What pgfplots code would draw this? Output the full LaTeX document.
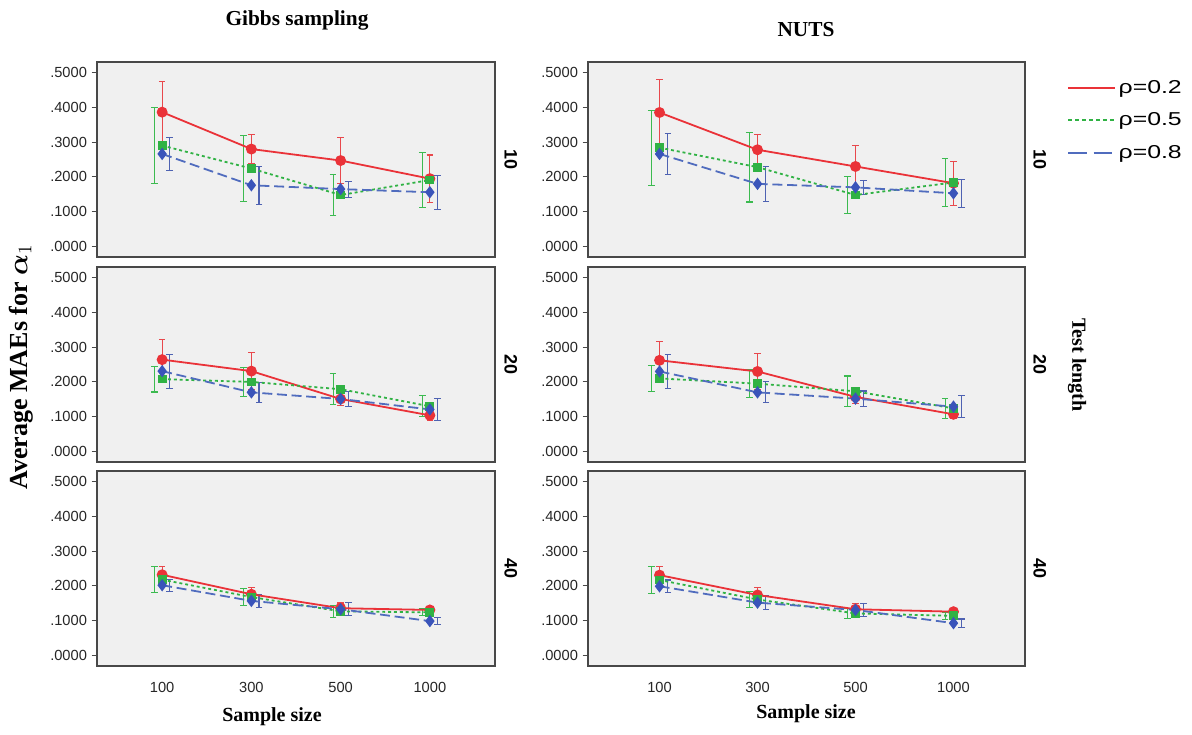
\documentclass[border=0pt]{standalone}
\usepackage{fontspec}
\setmainfont{Liberation Serif}
\setsansfont{Liberation Sans}
\newfontfamily\legfont[FakeStretch=1.33]{Liberation Sans}
\usepackage{bm}
\usepackage{pgfplots}
\pgfplotsset{compat=1.18}
\usepackage{pgfplotstable}

\definecolor{cR}{RGB}{234,50,56}
\definecolor{cG}{RGB}{48,178,68}
\definecolor{cB}{RGB}{58,84,186}
\definecolor{cBl}{RGB}{80,108,190}
\definecolor{cRe}{RGB}{232,72,76}
\definecolor{cGe}{RGB}{60,186,80}
\definecolor{cBe}{RGB}{78,98,178}
\definecolor{panelbg}{RGB}{240,240,240}
\definecolor{framec}{RGB}{72,72,72}

% columns: x, rho=0.2 (r, er), rho=0.5 (g, eg), rho=0.8 (b, eb)
\pgfplotstableread{
x r er g eg b eb
0 0.386 0.089 0.290 0.110 0.266 0.047
1 0.280 0.042 0.224 0.094 0.176 0.054
2 0.247 0.065 0.148 0.060 0.165 0.023
3 0.195 0.068 0.191 0.078 0.156 0.049
}\GibbsTen
\pgfplotstableread{
x r er g eg b eb
0 0.385 0.096 0.284 0.108 0.266 0.060
1 0.278 0.043 0.228 0.100 0.180 0.050
2 0.230 0.060 0.148 0.053 0.170 0.021
3 0.182 0.063 0.184 0.070 0.153 0.040
}\NUTSTen
\pgfplotstableread{
x r er g eg b eb
0 0.264 0.057 0.208 0.037 0.231 0.049
1 0.231 0.054 0.200 0.042 0.170 0.028
2 0.151 0.020 0.179 0.044 0.151 0.022
3 0.104 0.015 0.130 0.030 0.121 0.031
}\GibbsTwenty
\pgfplotstableread{
x r er g eg b eb
0 0.262 0.055 0.210 0.038 0.230 0.049
1 0.230 0.051 0.195 0.040 0.170 0.030
2 0.157 0.020 0.173 0.044 0.152 0.022
3 0.107 0.012 0.124 0.029 0.129 0.032
}\NUTSTwenty
\pgfplotstableread{
x r er g eg b eb
0 0.232 0.025 0.218 0.038 0.202 0.017
1 0.176 0.020 0.168 0.024 0.157 0.019
2 0.136 0.015 0.127 0.017 0.133 0.019
3 0.131 0.010 0.124 0.010 0.099 0.011
}\GibbsForty
\pgfplotstableread{
x r er g eg b eb
0 0.231 0.024 0.217 0.038 0.199 0.018
1 0.174 0.022 0.161 0.022 0.152 0.019
2 0.133 0.016 0.121 0.014 0.131 0.019
3 0.126 0.010 0.114 0.010 0.093 0.012
}\NUTSForty

\pgfplotsset{
  panel/.style={
    scale only axis, height=195*0.75pt,
    xmin=-0.73, xmax=3.73, ymin=-0.03, ymax=0.53,
    axis background/.style={fill=panelbg},
    axis line style={framec, line width=0.9pt},
    ytick={0,0.1,0.2,0.3,0.4,0.5},
    yticklabels={.0000,.1000,.2000,.3000,.4000,.5000},
    xtick={0,1,2,3}, xticklabels={},
    tick align=outside, major tick length=4pt,
    ytick pos=left, xtick pos=bottom,
    y tick style={framec, line width=0.8pt},
    x tick style={draw=none},
    tick label style={font=\sffamily\fontsize{11}{12}\selectfont, text=black!85},
    clip=false,
  },
  ebar/.style={draw=none, mark=none, forget plot,
    error bars/.cd, y dir=both, y explicit, error mark=|,
    error bar style={line width=0.8pt, solid, draw=#1},
    error mark options={line width=0.8pt, mark size=2.5pt, solid, draw=#1, color=#1}},
}

\newcommand{\series}[1]{%
  \addplot[ebar=cGe] table[x expr=\thisrow{x}-0.085, y=g, y error=eg] {#1};
  \addplot[ebar=cRe] table[x=x, y=r, y error=er] {#1};
  \addplot[ebar=cBe] table[x expr=\thisrow{x}+0.085, y=b, y error=eb] {#1};
  \addplot[cR, line width=1.35pt, mark=*, mark size=3.4pt, mark options={solid, fill=cR}, forget plot] table[x=x, y=r] {#1};
  \addplot[cG, line width=1.35pt, dash pattern=on 2.2pt off 2.2pt, mark=square*, mark size=2.6pt, mark options={solid, fill=cG}, forget plot] table[x=x, y=g] {#1};
  \addplot[cBl, line width=1.35pt, dash pattern=on 7.5pt off 3.5pt, mark=diamond*, mark size=3.6pt, mark options={solid, draw=cB, fill=cB}, forget plot] table[x=x, y=b] {#1};
}

\begin{document}
\begin{tikzpicture}
\path[use as bounding box] (0,0) rectangle (1192*0.75pt,-735*0.75pt);

% ---- Left column (Gibbs sampling)
\begin{axis}[panel, width=398*0.75pt, anchor=south west, at={(97*0.75pt,-257*0.75pt)}]
\series{\GibbsTen}
\node[rotate=-90, font=\sffamily\bfseries\fontsize{13.5}{14}\selectfont] at (rel axis cs:1.04,0.5) {10};
\end{axis}
\begin{axis}[panel, width=398*0.75pt, anchor=south west, at={(97*0.75pt,-462*0.75pt)}]
\series{\GibbsTwenty}
\node[rotate=-90, font=\sffamily\bfseries\fontsize{13.5}{14}\selectfont] at (rel axis cs:1.04,0.5) {20};
\end{axis}
\begin{axis}[panel, width=398*0.75pt, anchor=south west, at={(97*0.75pt,-666*0.75pt)},
  xticklabels={100,300,500,1000}, xticklabel style={yshift=-5pt}]
\series{\GibbsForty}
\node[rotate=-90, font=\sffamily\bfseries\fontsize{13.5}{14}\selectfont] at (rel axis cs:1.04,0.5) {40};
\end{axis}

% ---- Right column (NUTS)
\begin{axis}[panel, width=437*0.75pt, anchor=south west, at={(588*0.75pt,-257*0.75pt)},
  legend style={at={(1.087,0.935)}, anchor=north west, draw=none, fill=none,
    font=\legfont\fontsize{14}{15}\selectfont, row sep=9pt},
  legend cell align=left,
  legend image code/.code={\draw[#1] (0pt,0pt) -- (35pt,0pt);}]
\series{\NUTSTen}
\addlegendimage{cR, line width=1.5pt}
\addlegendentry{ρ=0.2}
\addlegendimage{cG, line width=1.5pt, dash pattern=on 3pt off 2.2pt}
\addlegendentry{ρ=0.5}
\addlegendimage{cBl, line width=1.5pt, dash pattern=on 14pt off 5pt}
\addlegendentry{ρ=0.8}
\node[rotate=-90, font=\sffamily\bfseries\fontsize{13.5}{14}\selectfont] at (rel axis cs:1.034,0.5) {10};
\end{axis}
\begin{axis}[panel, width=437*0.75pt, anchor=south west, at={(588*0.75pt,-462*0.75pt)}]
\series{\NUTSTwenty}
\node[rotate=-90, font=\sffamily\bfseries\fontsize{13.5}{14}\selectfont] at (rel axis cs:1.034,0.5) {20};
\end{axis}
\begin{axis}[panel, width=437*0.75pt, anchor=south west, at={(588*0.75pt,-666*0.75pt)},
  xticklabels={100,300,500,1000}, xticklabel style={yshift=-5pt}]
\series{\NUTSForty}
\node[rotate=-90, font=\sffamily\bfseries\fontsize{13.5}{14}\selectfont] at (rel axis cs:1.034,0.5) {40};
\end{axis}

% ---- Titles and labels
\node[font=\bfseries\fontsize{16}{18}\selectfont] at (297*0.75pt,-20*0.75pt) {Gibbs sampling};
\node[font=\bfseries\fontsize{16}{18}\selectfont] at (806*0.75pt,-30*0.75pt) {NUTS};
\node[font=\bfseries\fontsize{15}{17}\selectfont] at (272*0.75pt,-717*0.75pt) {Sample size};
\node[font=\bfseries\fontsize{15}{17}\selectfont] at (806*0.75pt,-714*0.75pt) {Sample size};
\node[rotate=90, font=\bfseries\fontsize{19.5}{21}\selectfont] at (21*0.75pt,-367*0.75pt) {Average MAEs for $\bm{\alpha}_1$};
\node[rotate=-90, font=\bfseries\fontsize{15}{17}\selectfont] at (1077*0.75pt,-365*0.75pt) {Test length};
\end{tikzpicture}
\end{document}
